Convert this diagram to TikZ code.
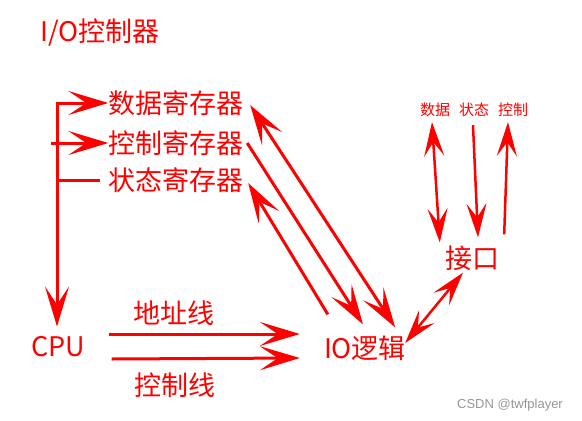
\documentclass[tikz,border=0pt]{standalone}
\usepackage{fontspec}
\setmainfont{Noto Sans CJK SC}
\newfontfamily\wmfont{Liberation Sans}
\usetikzlibrary{arrows.meta}
\definecolor{wmgray}{RGB}{150,150,150}

\begin{document}
\begin{tikzpicture}[x=1pt, y=-1pt,
    lbl/.style={text=red, inner sep=0pt, font=\fontsize{27}{30}\selectfont},
    tag/.style={text=red, inner sep=0pt, font=\fontsize{15}{17}\selectfont},
    bus/.style={draw=red, line width=3pt, >={Stealth[length=40pt, width=24pt, inset=18pt]}},
    wire/.style={draw=red, line width=2.5pt, >={Stealth[length=34pt, width=20pt, inset=14pt]}}
]
  \useasboundingbox (0,0) rectangle (582,421);

  \node[lbl] (title) at (100,33) {I/O控制器};

  \node[lbl] (datareg) at (176,103) {数据寄存器};
  \node[lbl] (ctrlreg) at (176,143) {控制寄存器};
  \node[lbl] (statreg) at (176,180) {状态寄存器};

  \node[lbl] (cpu) at (58,347) {CPU};
  \node[lbl] (addr) at (174,313) {地址线};
  \node[lbl] (ctrlline) at (175,385) {控制线};
  \node[lbl] (iologic) at (365,348) {IO逻辑};
  \node[lbl] (port) at (472,258) {接口};

  \node[tag] (sdata) at (435,110) {数据};
  \node[tag] (sstat) at (474,110) {状态};
  \node[tag] (sctrl) at (513,110) {控制};

  \node[text=wmgray, inner sep=0pt, font=\wmfont\fontsize{13}{15}\selectfont] (mark) at (510,405) {CSDN @twfplayer};

  % internal bus of the controller
  \coordinate (busTop) at (57,103);
  \draw[bus, <->, shorten >=10pt] (datareg.west) -- (busTop) -- (busTop |- cpu.north);
  \draw[bus, ->] (busTop |- ctrlreg.west) ++(-6,0) -- (ctrlreg.west);
  \draw[bus] (busTop |- statreg.west) -- ([xshift=-8pt]statreg.west);

  % registers <-> IO logic
  \draw[bus, <->] ([xshift=-11pt, yshift=8pt]iologic.north east) -- ([xshift=6.5pt, yshift=-2pt]datareg.east);
  \draw[bus, ->] ([xshift=3.5pt]ctrlreg.east) -- ([xshift=-2pt, yshift=11pt]iologic.north);
  \draw[bus, ->] ([xshift=4pt, yshift=21pt]iologic.north west) -- ([xshift=4.5pt, yshift=-3pt]statreg.east);

  % CPU lines
  \draw[bus, ->] ([xshift=23.5pt, yshift=13pt]cpu.east) -- ([xshift=-24pt, yshift=14pt]iologic.west);
  \draw[bus, ->] ([xshift=26.5pt, yshift=-12pt]cpu.east) -- ([xshift=-24pt, yshift=-10pt]iologic.west);

  % interface side
  \draw[wire, <->] ([xshift=-1pt, yshift=5pt]iologic.east) -- ([xshift=-9pt, yshift=-2pt]port.south);
  \draw[wire, <->] ([xshift=-3pt, yshift=-5pt]sdata.south) -- ([xshift=-5pt, yshift=3pt]port.north west);
  \draw[wire, ->] ([xshift=-1pt, yshift=-8pt]sstat.south) -- ([xshift=6pt, yshift=8pt]port.north);
  \draw[wire, ->] ([xshift=5pt, yshift=11pt]port.north east) -- ([xshift=-5pt, yshift=-5pt]sctrl.south);
\end{tikzpicture}
\end{document}
